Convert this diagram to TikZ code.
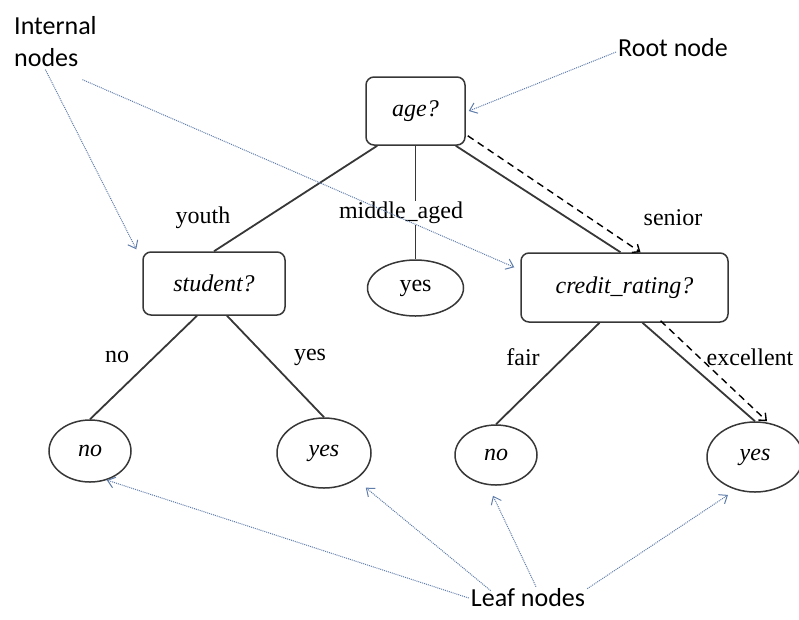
\documentclass[tikz,border=0pt]{standalone}
\usepackage{fontspec}
\setmainfont{Liberation Serif}
\newfontfamily\notefont{Carlito}
\usetikzlibrary{arrows.meta,shapes.geometric,positioning}
\definecolor{annblue}{RGB}{95,125,170}
\definecolor{edgegray}{RGB}{55,55,55}

\begin{document}
\begin{tikzpicture}[x=1pt,y=-1pt,font=\fontsize{24}{28}\selectfont,
  q/.style={draw=edgegray,line width=1.5pt,rounded corners=8pt,font=\fontsize{24}{28}\selectfont\itshape,inner sep=0pt},
  lf/.style={draw=edgegray,ellipse,line width=1.5pt,inner sep=0pt},
  lfi/.style={lf,font=\fontsize{24}{28}\selectfont\itshape},
  br/.style={draw=edgegray,line width=1.8pt},
  hop/.style={black,line width=1.4pt,dash pattern=on 7pt off 5pt,-{Straight Barb[length=6pt,width=10pt]}},
  lbl/.style={inner sep=1pt},
  ann/.style={font=\notefont\fontsize{26}{32}\selectfont,align=left,inner sep=2pt},
  note/.style={annblue,line width=1pt,densely dotted,-{Straight Barb[length=7pt,width=11pt]}}]
\useasboundingbox (0,0) rectangle (799,619);
% tree
\node[q,minimum width=99pt,minimum height=68pt] (age) at (415.5,111) {age?};
\node[q,minimum width=142pt,minimum height=63pt] (stud) at (214,283.5) {student?};
\node[q,minimum width=207pt,minimum height=69pt] (cred) at (624.5,287.5) {credit\_rating?};
\node[lf,minimum width=96pt,minimum height=56pt] (mid) at (415.5,288) {yes};
\node[lfi,minimum width=82pt,minimum height=62pt] (no1) at (90,451) {no};
\node[lfi,minimum width=94pt,minimum height=70pt] (yes1) at (324,453) {yes};
\node[lfi,minimum width=82pt,minimum height=60pt] (no2) at (496,455) {no};
\node[lfi,minimum width=96pt,minimum height=70pt] (yes2) at (755,457) {yes};
\draw[br] ([xshift=12pt]age.south west) -- (stud.north);
\draw[br] (age.south) -- (mid.north);
\draw[br] ([xshift=-10pt]age.south east) -- ([xshift=-4pt]cred.north);
\draw[br] ([xshift=-17pt]stud.south) -- (no1.north);
\draw[br] ([xshift=13pt]stud.south) -- (yes1.north);
\draw[br] ([xshift=-25pt]cred.south) -- (no2.north);
\draw[br] ([xshift=18pt]cred.south) -- (yes2.north);
\draw[hop] ([xshift=2pt,yshift=10pt]age.south east) -- ([xshift=16pt]cred.north);
\draw[hop] ([xshift=36pt,yshift=2pt]cred.south) -- ([xshift=12pt]yes2.north);
% branch labels
\node[lbl] (lyouth) at (203,218) {youth};
\node[lbl,fill=white] (lmid) at (401,213) {middle\_aged};
\node[lbl] (lsen) at (673,218) {senior};
\node[lbl] (lno) at (117,357) {no};
\node[lbl] (lyes) at (310,357) {yes};
\node[lbl] (lfair) at (523,357) {fair};
\node[lbl] (lexc) at (750,357) {excellent};
% notes
\node[ann,anchor=north west] (intn) at (12,14) {Internal\\nodes};
\node[ann] (rootn) at (673,48) {Root node};
\node[ann] (leafn) at (528,598) {Leaf nodes};
\draw[note] ([xshift=-10pt,yshift=-1pt]intn.south) -- ([xshift=-6pt,yshift=2pt]stud.north west);
\draw[note] ([xshift=27pt,yshift=-11pt]intn.south) -- ([xshift=-6pt,yshift=-15pt]cred.north west);
\draw[note] ([yshift=-4pt]rootn.west) -- ([xshift=3pt]age.east);
\draw[note] (leafn.west) -- (no1.-60);
\draw[note] ([xshift=22pt,yshift=-4pt]leafn.north west) -- ([xshift=10pt,yshift=-8pt]yes1.-40);
\draw[note] ([xshift=8pt]leafn.north) -- ([xshift=-3pt,yshift=-10pt]no2.south);
\draw[note] ([yshift=-2pt]leafn.north east) -- ([xshift=-8pt,yshift=-5pt]yes2.-120);
\end{tikzpicture}
\end{document}
